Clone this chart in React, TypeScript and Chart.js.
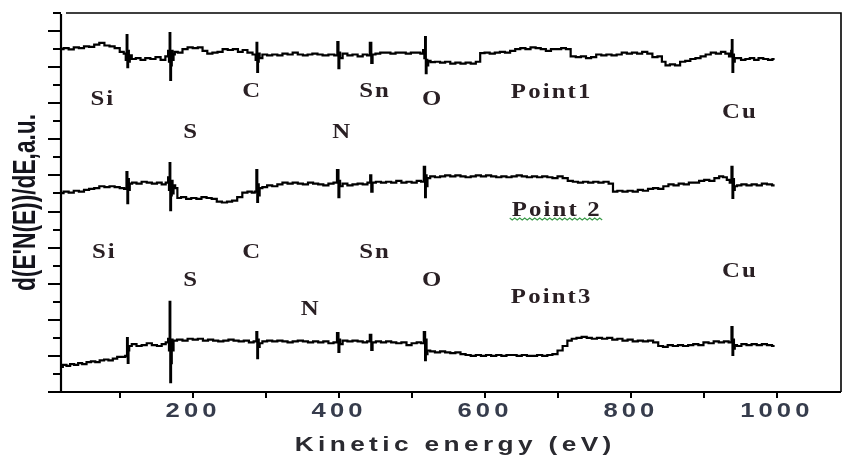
import { useEffect, useRef } from "react";
import { Chart, registerables } from "chart.js";

Chart.register(...registerables);

// ---------- data ----------
const X_MIN = 19;
const X_MAX = 1088;
const Y_MIN = 0;
const Y_MAX = 21;

const X_TICKS = [100, 200, 300, 400, 500, 600, 700, 800, 900, 1000];
const X_TICK_LABELS = [200, 400, 600, 800, 1000];
const Y_TICKS = [0, 1, 2, 3, 4, 5, 6, 7, 8, 9, 10, 11, 12, 13, 14, 15, 16, 17, 18, 19, 20, 21];

const X_TITLE = "Kinetic energy (eV)";
const Y_TITLE = "d(E'N(E))/dE,a.u.";

// [kinetic energy (eV), signal]
const POINT1: [number, number][] = [
  [19, 19.0], [26, 19.05], [33, 18.98], [40, 19.1], [47, 19.05], [54, 19.15], [61, 19.12], [68, 19.25],
  [75, 19.35], [82, 19.2], [89, 19.15], [96, 19.05], [103, 18.85], [107, 18.75], [108.5, 18.4], [109.5, 19.78],
  [110.5, 18.0], [111.5, 18.9], [112.5, 18.3], [114, 18.65], [118, 18.45], [125, 18.5], [131, 18.4], [138, 18.5],
  [145, 18.45], [152, 18.55], [159, 18.4], [165, 18.6], [166.5, 18.9], [167.5, 18.3], [168.3, 19.89], [169.3, 17.29],
  [170.3, 18.1], [171.3, 18.9], [172.5, 18.4], [174, 18.7], [176, 18.85], [182, 18.8], [189, 19.0], [196, 19.1],
  [203, 19.05], [210, 19.1], [216, 18.9], [223, 18.75], [230, 18.8], [237, 18.85], [244, 19.0], [251, 18.95],
  [258, 19.0], [265, 18.85], [271, 18.95], [278, 18.8], [285, 18.7], [286.5, 18.4], [287.5, 19.34], [288.5, 17.73],
  [289.5, 18.3], [290.5, 18.75], [292, 18.5], [298, 18.7], [305, 18.65], [312, 18.7], [319, 18.65], [326, 18.75],
  [333, 18.7], [340, 18.8], [347, 18.7], [354, 18.65], [360, 18.7], [367, 18.75], [374, 18.7], [381, 18.65],
  [390, 18.7], [397, 18.65], [398.5, 19.39], [400, 17.95], [401, 18.8], [402, 18.5], [408, 18.75], [415, 18.65],
  [422, 18.7], [429, 18.6], [436, 18.7], [441, 18.65], [443.5, 19.34], [445, 18.23], [447, 18.7], [453, 18.75],
  [460, 18.8], [467, 18.8], [474, 18.75], [481, 18.8], [488, 18.8], [495, 18.75], [502, 18.8], [509, 18.8],
  [514, 18.75], [516.5, 18.95], [517.5, 18.5], [518.5, 19.67], [519.5, 17.67], [520.5, 18.4], [521.5, 18.1], [523, 18.35],
  [528, 18.28], [535, 18.3], [542, 18.25], [549, 18.3], [556, 18.2], [563, 18.25], [570, 18.2], [577, 18.25],
  [584, 18.2], [591, 18.3], [596, 18.78], [603, 18.8], [610, 18.75], [617, 18.8], [624, 18.85], [631, 18.8],
  [638, 18.9], [645, 19.0], [652, 19.05], [659, 19.0], [666, 19.1], [673, 19.05], [680, 19.0], [687, 18.9],
  [694, 19.0], [701, 19.0], [708, 19.05], [714, 19.0], [721, 18.6], [728, 18.55], [735, 18.6], [742, 18.5],
  [749, 18.55], [756, 18.7], [763, 18.65], [770, 18.7], [777, 18.65], [784, 18.7], [791, 18.8], [798, 18.75],
  [805, 18.8], [812, 18.75], [819, 18.85], [826, 18.75], [833, 18.55], [840, 18.6], [845, 18.3], [850, 18.1],
  [857, 18.15], [864, 18.1], [871, 18.3], [878, 18.35], [885, 18.45], [892, 18.5], [899, 18.6], [906, 18.7],
  [913, 18.8], [920, 18.75], [927, 18.85], [932, 18.75], [937, 18.6], [938, 18.9], [938.8, 19.5], [939.8, 17.73],
  [940.8, 18.7], [941.8, 18.3], [943, 18.5], [948, 18.5], [954, 18.4], [960, 18.45], [966, 18.5], [972, 18.4],
  [978, 18.5], [985, 18.45], [991, 18.4], [997, 18.45],
];

const POINT2: [number, number][] = [
  [19, 11.02], [26, 11.1], [33, 11.05], [40, 11.15], [47, 11.1], [54, 11.2], [61, 11.25], [68, 11.3],
  [75, 11.4], [82, 11.35], [89, 11.4], [96, 11.35], [103, 11.3], [108, 11.25], [109.5, 12.19], [110.5, 10.47],
  [111.5, 11.8], [112.5, 11.2], [114, 11.55], [119, 11.6], [126, 11.55], [133, 11.65], [140, 11.6], [147, 11.55],
  [154, 11.6], [160, 11.5], [165, 11.6], [166.5, 11.9], [167.5, 11.2], [168.3, 12.69], [169.3, 10.08], [170.3, 10.9],
  [171.3, 11.7], [172.5, 11.0], [174, 11.45], [177, 11.3], [180, 10.75], [187, 10.8], [194, 10.7], [201, 10.75],
  [208, 10.7], [215, 10.8], [222, 10.75], [229, 10.7], [236, 10.55], [243, 10.5], [250, 10.55], [257, 10.6],
  [264, 10.8], [271, 11.05], [278, 11.1], [283, 11.05], [286, 11.1], [287.5, 12.3], [288.5, 10.53], [289.5, 11.5],
  [290.5, 10.9], [292, 11.3], [298, 11.35], [305, 11.45], [312, 11.4], [319, 11.5], [326, 11.6], [333, 11.55],
  [340, 11.6], [347, 11.55], [354, 11.5], [361, 11.6], [368, 11.55], [375, 11.5], [382, 11.45], [389, 11.55],
  [396, 11.6], [398.5, 12.3], [400, 10.8], [401, 11.7], [402, 11.4], [408, 11.55], [415, 11.45], [422, 11.5],
  [429, 11.55], [436, 11.5], [442, 11.6], [443.5, 12.0], [445, 11.1], [447, 11.6], [454, 11.65], [461, 11.6],
  [468, 11.65], [475, 11.6], [482, 11.7], [489, 11.6], [496, 11.65], [503, 11.6], [510, 11.7], [515, 11.65],
  [517.5, 12.47], [518.5, 10.8], [519.5, 12.0], [520.5, 11.4], [522, 11.85], [528, 11.95], [535, 11.9], [542, 11.95],
  [549, 12.0], [556, 11.95], [563, 12.0], [570, 11.95], [577, 11.9], [584, 11.95], [591, 12.0], [598, 11.95],
  [605, 12.0], [612, 11.95], [619, 11.9], [626, 11.95], [633, 11.9], [640, 11.95], [647, 12.0], [654, 11.95],
  [661, 11.9], [668, 11.95], [675, 11.9], [682, 11.95], [689, 11.9], [696, 11.85], [703, 11.95], [710, 11.85],
  [717, 11.7], [724, 11.65], [731, 11.6], [738, 11.65], [745, 11.6], [752, 11.65], [759, 11.6], [766, 11.65],
  [773, 11.55], [778, 11.1], [785, 11.15], [792, 11.1], [799, 11.15], [806, 11.1], [813, 11.2], [820, 11.15],
  [827, 11.25], [834, 11.3], [841, 11.25], [848, 11.4], [855, 11.5], [862, 11.45], [869, 11.55], [876, 11.5],
  [883, 11.6], [890, 11.6], [897, 11.7], [904, 11.75], [911, 11.7], [918, 11.85], [924, 11.95], [929, 11.9],
  [934, 11.75], [937, 11.6], [938.8, 12.47], [939.8, 10.75], [940.8, 11.8], [941.8, 11.2], [943, 11.4], [948, 11.45],
  [955, 11.5], [962, 11.45], [969, 11.5], [976, 11.45], [983, 11.55], [990, 11.5], [997, 11.45],
];

const POINT3: [number, number][] = [
  [19, 1.39], [24, 1.5], [29, 1.45], [34, 1.55], [40, 1.5], [45, 1.6], [51, 1.55], [57, 1.65],
  [63, 1.7], [69, 1.65], [75, 1.75], [81, 1.8], [87, 1.75], [93, 1.85], [99, 1.95], [105, 1.95],
  [109, 2.0], [110, 2.99], [111, 1.61], [112, 2.3], [113, 2.55], [119, 2.65], [126, 2.55], [133, 2.6],
  [140, 2.7], [147, 2.6], [154, 2.55], [160, 2.65], [165, 2.75], [166.5, 2.95], [167.5, 2.3], [168.3, 4.99],
  [169.3, 0.55], [170.3, 1.6], [171.3, 2.9], [172.5, 2.3], [174, 2.85], [182, 2.9], [189, 2.85], [196, 2.95],
  [203, 2.9], [210, 2.95], [217, 2.85], [224, 2.9], [231, 2.85], [238, 2.8], [245, 2.85], [252, 2.9],
  [259, 2.85], [266, 2.8], [273, 2.85], [280, 2.75], [286, 2.8], [287.5, 3.32], [288.5, 1.88], [289.5, 2.9],
  [290.5, 2.5], [292, 2.7], [298, 2.8], [305, 2.85], [312, 2.8], [319, 2.85], [326, 2.8], [333, 2.75],
  [340, 2.8], [347, 2.85], [354, 2.8], [361, 2.75], [368, 2.8], [375, 2.75], [382, 2.8], [389, 2.7],
  [396, 2.75], [398.5, 3.27], [400, 2.22], [401, 2.9], [402, 2.65], [408, 2.85], [415, 2.8], [422, 2.85],
  [429, 2.8], [436, 2.75], [441, 2.8], [443.5, 3.16], [445, 2.33], [447, 2.75], [454, 2.8], [461, 2.75],
  [468, 2.8], [475, 2.75], [482, 2.7], [489, 2.75], [496, 2.6], [503, 2.7], [510, 2.75], [515, 2.7],
  [517.5, 3.32], [518.5, 1.77], [519.5, 2.9], [520.5, 2.1], [522, 2.3], [528, 2.25], [535, 2.2], [542, 2.25],
  [549, 2.2], [556, 2.15], [563, 2.2], [570, 2.1], [577, 2.05], [584, 2.0], [591, 2.05], [598, 2.0],
  [605, 2.05], [612, 2.0], [619, 2.05], [626, 2.0], [633, 2.05], [640, 2.05], [647, 2.0], [654, 2.05],
  [661, 2.0], [668, 2.0], [675, 2.05], [682, 2.0], [689, 2.05], [696, 2.1], [703, 2.3], [710, 2.55],
  [716, 2.85], [722, 2.95], [729, 3.0], [736, 3.05], [743, 3.0], [750, 2.95], [757, 3.0], [764, 2.95],
  [771, 3.0], [778, 2.9], [785, 2.95], [792, 2.85], [799, 2.9], [806, 2.8], [813, 2.85], [820, 2.8],
  [827, 2.85], [834, 2.75], [841, 2.55], [847, 2.5], [854, 2.6], [861, 2.55], [868, 2.6], [875, 2.55],
  [882, 2.6], [889, 2.65], [896, 2.6], [903, 2.75], [910, 2.7], [917, 2.8], [924, 2.75], [931, 2.8],
  [937, 2.75], [938.8, 3.6], [939.8, 2.05], [940.8, 2.9], [941.8, 2.4], [943, 2.6], [948, 2.55], [955, 2.65],
  [962, 2.6], [969, 2.65], [976, 2.6], [983, 2.65], [990, 2.6], [997, 2.55],
];

// annotation labels: [text, energy, signal]
const LABELS: [string, number, number][] = [
  ["Si", 75, 16.18], ["C", 279.5, 16.62], ["S", 196, 14.4], ["Sn", 448, 16.62], ["O", 527, 16.23],
  ["N", 403, 14.4], ["Point1", 690, 16.57], ["Cu", 948, 15.51],
  ["Point 2", 697, 10.03],
  ["Si", 77, 7.7], ["C", 279.5, 7.7], ["S", 196, 6.2], ["Sn", 448, 7.7], ["O", 527, 6.2],
  ["N", 360, 4.54], ["Point3", 690, 5.21], ["Cu", 948, 6.65],
];
const UNDERLINED_LABEL = "Point 2";

// ---------- drawing helpers ----------
function drawText(
  ctx: CanvasRenderingContext2D,
  text: string,
  x: number,
  y: number,
  font: string,
  color: string,
  sx: number,
  spacing: number,
  rotate = 0
) {
  ctx.save();
  ctx.translate(x, y);
  if (rotate) ctx.rotate(rotate);
  ctx.scale(sx, 1);
  ctx.font = font;
  (ctx as any).letterSpacing = spacing + "px";
  ctx.fillStyle = color;
  ctx.textAlign = "center";
  ctx.textBaseline = "middle";
  ctx.fillText(text, spacing / 2, 0);
  ctx.restore();
}

const decorPlugin = {
  id: "decor",
  afterDraw(chart: any) {
    const { ctx, chartArea: a, scales } = chart;
    const xs = scales.x;
    const ys = scales.y;
    ctx.save();
    ctx.strokeStyle = "#000";
    ctx.lineCap = "butt";

    // frame top/right
    ctx.lineWidth = 1.6;
    ctx.beginPath();
    ctx.moveTo(a.left + 5, a.top);
    ctx.lineTo(a.right, a.top);
    ctx.lineTo(a.right, a.bottom);
    ctx.stroke();

    // axes
    ctx.lineWidth = 2.2;
    ctx.beginPath();
    ctx.moveTo(a.left, a.top + 1);
    ctx.lineTo(a.left, a.bottom);
    ctx.lineTo(a.right, a.bottom);
    ctx.stroke();

    // y ticks
    ctx.lineWidth = 2;
    for (const v of Y_TICKS) {
      const py = Math.round(ys.getPixelForValue(v));
      const len = v % 2 === 0 ? 13 : 8;
      ctx.beginPath();
      ctx.moveTo(a.left - len, py);
      ctx.lineTo(a.left, py);
      ctx.stroke();
    }
    // x ticks
    for (const v of X_TICKS) {
      const px = Math.round(xs.getPixelForValue(v));
      ctx.beginPath();
      ctx.moveTo(px, a.bottom);
      ctx.lineTo(px, a.bottom + 6);
      ctx.stroke();
    }
    ctx.restore();

    // x tick labels
    for (const v of X_TICK_LABELS) {
      drawText(ctx, String(v), xs.getPixelForValue(v) - 2, a.bottom + 19, "bold 20px 'Liberation Sans', Arial, sans-serif", "#363c4c", 1.28, 3.2);
    }
    // axis titles
    drawText(ctx, X_TITLE, (a.left + a.right) / 2 + 2, a.bottom + 53, "bold 21px 'Liberation Sans', Arial, sans-serif", "#2a2a30", 1.25, 3.5);
    drawText(ctx, Y_TITLE, 26, (a.top + a.bottom) / 2, "bold 32px 'Liberation Sans', Arial, sans-serif", "#14141c", 0.71, 0, -Math.PI / 2);

    // annotation labels
    for (const [t, e, s] of LABELS) {
      const px = xs.getPixelForValue(e);
      const py = ys.getPixelForValue(s);
      drawText(ctx, t, px, py, "bold 21px 'Liberation Serif', 'Times New Roman', serif", "#2a2024", 1.18, 1.8);
      if (t === UNDERLINED_LABEL) {
        ctx.save();
        ctx.strokeStyle = "#3a9a48";
        ctx.lineWidth = 1.1;
        ctx.beginPath();
        const x0 = px - 46;
        const x1 = px + 48;
        let k = 0;
        for (let xx = x0; xx <= x1; xx += 2.5) {
          const yy = py + 8 + (k % 2 === 0 ? -1 : 1);
          if (k === 0) ctx.moveTo(xx, yy);
          else ctx.lineTo(xx, yy);
          k++;
        }
        ctx.stroke();
        ctx.restore();
      }
    }
  },
};

function toXY(arr: [number, number][]) {
  return arr.map(([x, y]) => ({ x, y }));
}

export default function App() {
  const ref = useRef<HTMLCanvasElement | null>(null);
  useEffect(() => {
    if (!ref.current) return;
    const lineStyle = {
      borderColor: "#000",
      borderWidth: 2.2,
      pointRadius: 0,
      tension: 0,
      fill: false,
      stepped: "middle" as const,
      borderJoinStyle: "miter" as const,
    };
    const chart = new Chart(ref.current, {
      type: "line",
      data: {
        datasets: [
          { label: "Point1", data: toXY(POINT1), ...lineStyle },
          { label: "Point 2", data: toXY(POINT2), ...lineStyle },
          { label: "Point3", data: toXY(POINT3), ...lineStyle },
        ],
      },
      options: {
        animation: false,
        responsive: false,
        layout: { padding: { left: 0, top: 13, right: 3, bottom: 0 } },
        plugins: {
          legend: { display: false },
          tooltip: { enabled: false },
          title: { display: false },
        },
        scales: {
          x: {
            type: "linear",
            min: X_MIN,
            max: X_MAX,
            ticks: { display: false, includeBounds: false, stepSize: 100 },
            grid: { display: false },
            border: { display: false },
            afterFit: (s: any) => {
              s.height = 65;
            },
          },
          y: {
            type: "linear",
            min: Y_MIN,
            max: Y_MAX,
            ticks: { display: false },
            grid: { display: false },
            border: { display: false },
            afterFit: (s: any) => {
              s.width = 61;
            },
          },
        },
      },
      plugins: [decorPlugin],
    });
    return () => chart.destroy();
  }, []);

  return (
    <div style={{ position: "absolute", left: 0, top: 0, width: 844, height: 457, background: "#fff" }}>
      <canvas ref={ref} width={844} height={457} style={{ display: "block" }} />
    </div>
  );
}
